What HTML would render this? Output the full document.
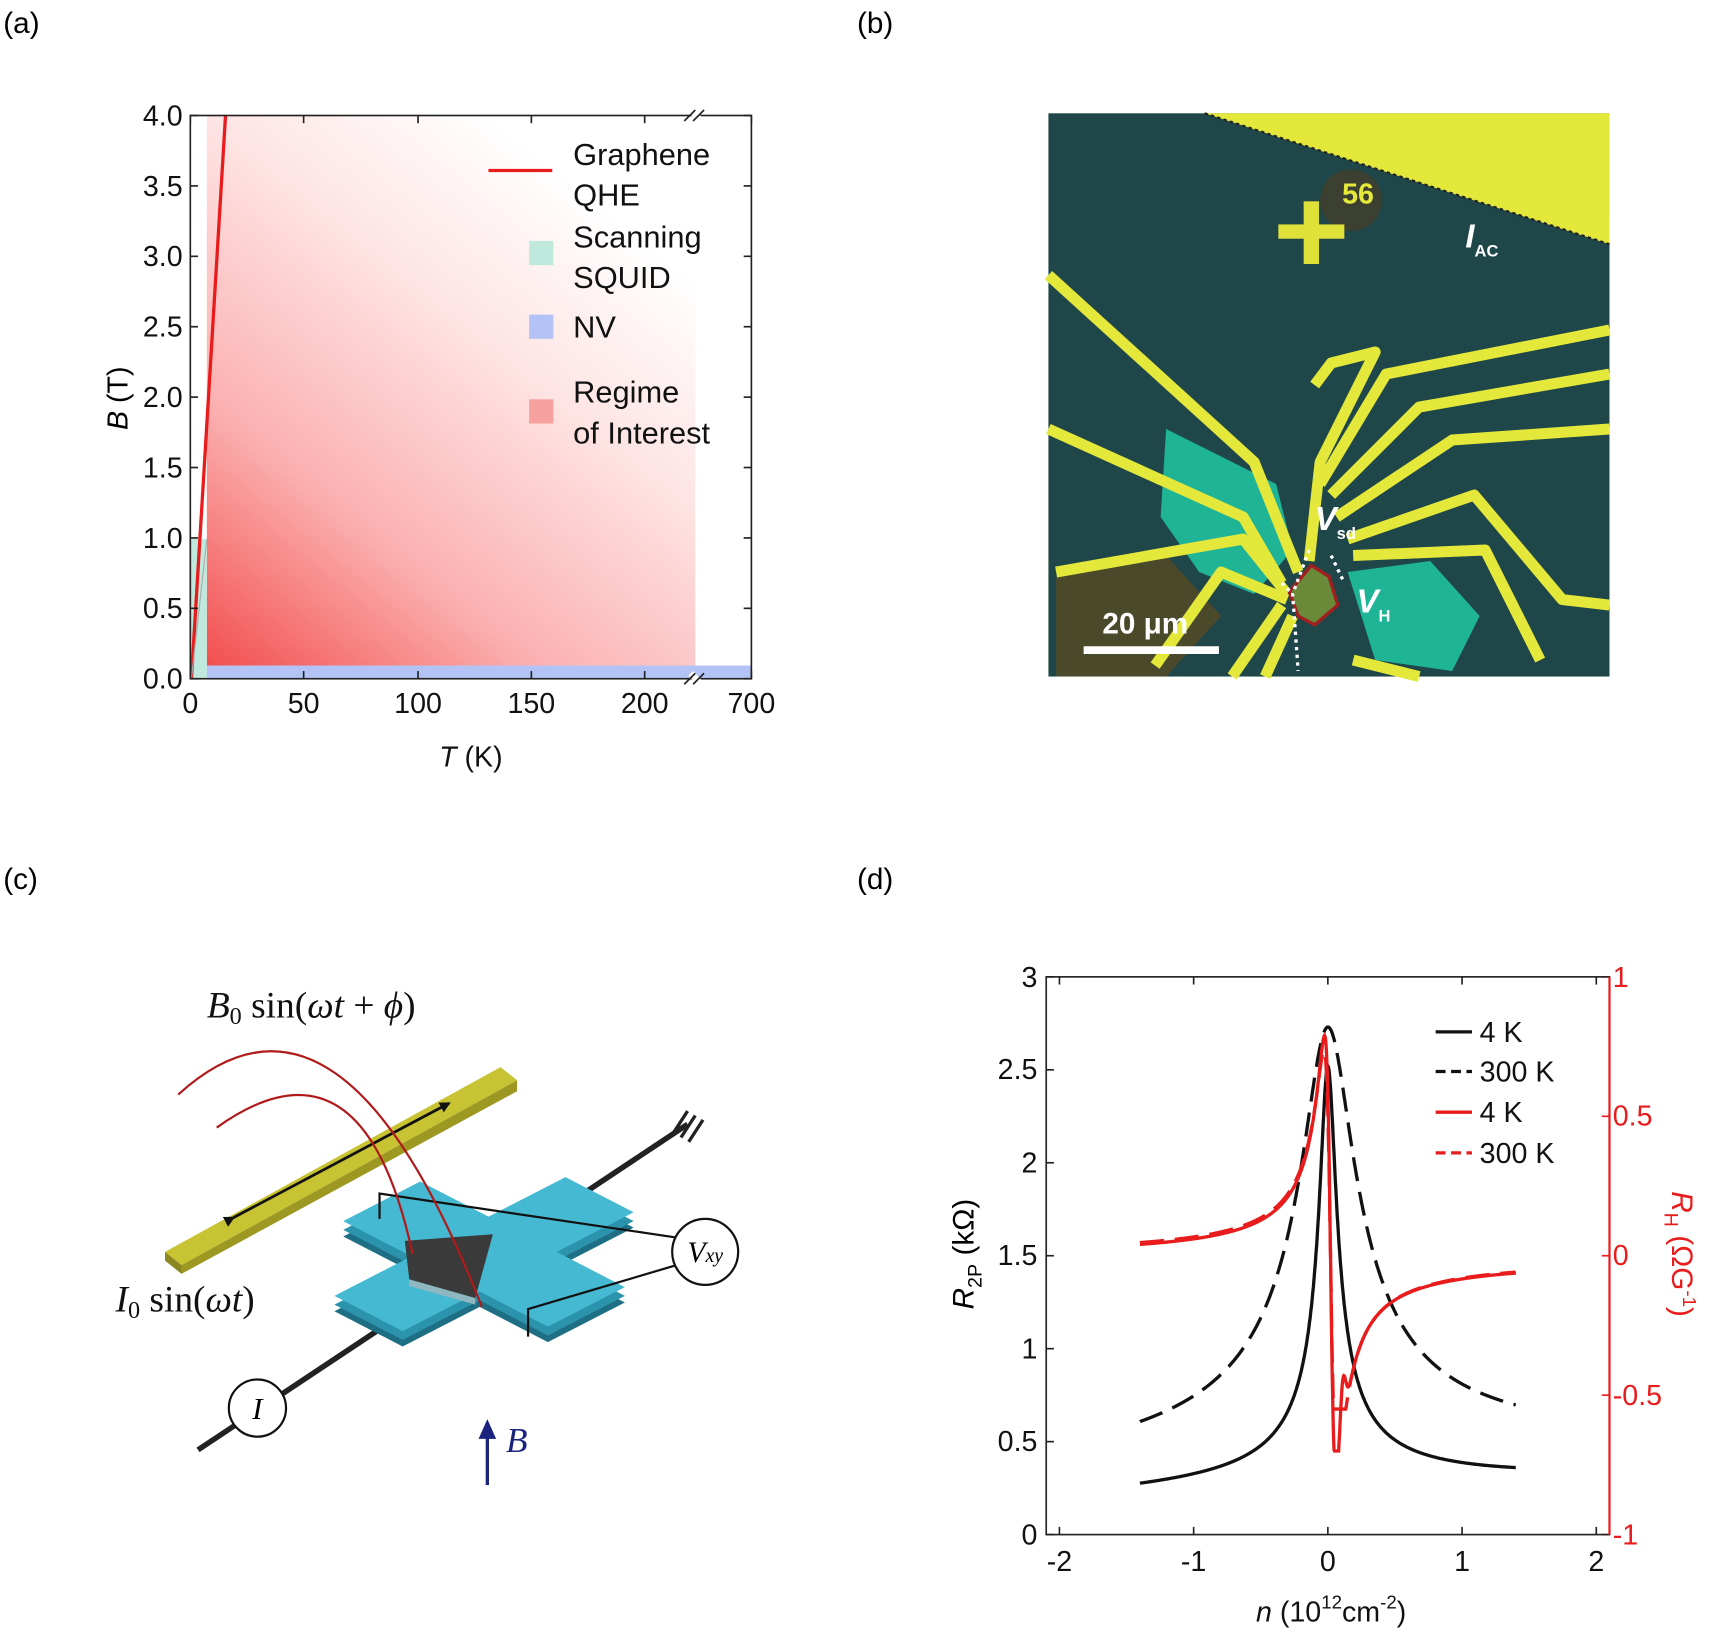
<!DOCTYPE html>
<html><head><meta charset="utf-8"><style>html,body{margin:0;padding:0;background:#fff}svg{display:block}.sans{font-family:"Liberation Sans",sans-serif}.serif{font-family:"Liberation Serif",serif}</style></head>
<body>
<svg id="s" class="sans" width="1725" height="1638" viewBox="0 0 1568 1489" preserveAspectRatio="none" xmlns="http://www.w3.org/2000/svg">
<defs>
<linearGradient id="pg" gradientUnits="userSpaceOnUse" x1="188" y1="617" x2="600" y2="105">
<stop offset="0" stop-color="#f24a4a"/><stop offset="0.3" stop-color="#fbb0b0"/><stop offset="0.6" stop-color="#fee3e3"/><stop offset="0.85" stop-color="#ffffff"/></linearGradient>
<marker id="ah" markerWidth="10" markerHeight="10" refX="8" refY="5" orient="auto" markerUnits="userSpaceOnUse"><path d="M0,0 L10,5 L0,10 Z" fill="#111"/></marker>
</defs>
<g font-size="27">
<text x="3" y="30">(a)</text><text x="779" y="30">(b)</text><text x="3" y="808">(c)</text><text x="779" y="808">(d)</text>
</g>
<!-- panel a -->
<rect x="188" y="105" width="444" height="500" fill="url(#pg)"/>
<rect x="173" y="490" width="15" height="127" fill="#bfe9dc"/>
<rect x="188" y="605" width="495" height="12" fill="#b3c3f5"/>
<line x1="174" y1="617" x2="205" y2="105" stroke="#e81c1c" stroke-width="3"/>
<line x1="174" y1="617" x2="188" y2="490" stroke="#aaa" stroke-width="1"/>
<rect x="173" y="105" width="510" height="512" fill="none" stroke="#222" stroke-width="1.5"/>
<g stroke="#fff" stroke-width="6"><line x1="628" y1="100" x2="637" y2="110"/><line x1="628" y1="612" x2="637" y2="622"/></g>
<g stroke="#222" stroke-width="1.5"><line x1="622" y1="110" x2="632" y2="100"/><line x1="630" y1="110" x2="640" y2="100"/><line x1="622" y1="622" x2="632" y2="612"/><line x1="630" y1="622" x2="640" y2="612"/></g>
<g id="aticks" stroke="#222" stroke-width="1.5"></g>
<g font-size="26" text-anchor="end" fill="#111">
<text x="166" y="114">4.0</text><text x="166" y="178">3.5</text><text x="166" y="242">3.0</text><text x="166" y="306">2.5</text><text x="166" y="370">2.0</text><text x="166" y="434">1.5</text><text x="166" y="498">1.0</text><text x="166" y="562">0.5</text><text x="166" y="626">0.0</text></g>
<g font-size="26" text-anchor="middle" fill="#111">
<text x="173" y="648">0</text><text x="276" y="648">50</text><text x="380" y="648">100</text><text x="483" y="648">150</text><text x="586" y="648">200</text><text x="683" y="648">700</text>
<text x="428" y="697"><tspan font-style="italic">T</tspan> (K)</text></g>
<text transform="translate(116,362) rotate(-90)" font-size="26" text-anchor="middle"><tspan font-style="italic">B</tspan> (T)</text>
<line x1="444" y1="155" x2="502" y2="155" stroke="#e81c1c" stroke-width="3"/>
<rect x="481" y="219" width="22" height="22" fill="#bfe9dc"/>
<rect x="481" y="286" width="22" height="22" fill="#b3c3f5"/>
<rect x="481" y="363" width="22" height="22" fill="#f7a0a0"/>
<g font-size="28" fill="#111"><text x="521" y="150">Graphene</text><text x="521" y="187">QHE</text><text x="521" y="225">Scanning</text><text x="521" y="262">SQUID</text><text x="521" y="307">NV</text><text x="521" y="366">Regime</text><text x="521" y="403">of Interest</text></g>
<!-- panel b -->
<rect x="953" y="103" width="510" height="512" fill="#1f4648"/>
<polygon points="1095,103 1463,103 1463,222" fill="#e3e83a"/>
<line x1="1095" y1="103" x2="1463" y2="222" stroke="#222" stroke-width="2" stroke-dasharray="3,3"/>
<circle cx="1228" cy="182" r="28" fill="#3b4030"/>
<rect x="1162" y="204" width="60" height="13" fill="#dfe038"/><rect x="1185" y="183" width="14" height="57" fill="#dfe038"/>
<text x="1220" y="185" font-size="26" font-weight="bold" fill="#e6e83a">56</text>
<polygon points="1060,390 1160,440 1175,500 1140,540 1090,520 1055,470" fill="#1fc8a3" opacity="0.85"/>
<polygon points="1225,520 1300,510 1345,560 1320,610 1250,600" fill="#1fc8a3" opacity="0.85"/>
<polygon points="960,525 1060,505 1110,560 1060,615 960,615" fill="#4a4a2a"/>
<g stroke="#e3e83a" stroke-width="10" fill="none" stroke-linejoin="round">
<path d="M953,250 L1140,420 L1180,520"/><path d="M953,390 L1130,470 L1165,530"/><path d="M960,520 L1130,490 L1170,540"/>
<path d="M1050,605 L1110,520 L1170,545"/><path d="M1120,615 L1165,550"/><path d="M1150,615 L1175,560"/>
<path d="M1195,350 L1210,330 L1250,320 L1200,420 L1190,510"/><path d="M1200,440 L1260,340 L1463,300"/>
<path d="M1210,450 L1290,370 L1463,340"/><path d="M1215,470 L1320,400 L1463,390"/>
<path d="M1225,490 L1340,450 L1420,545 L1463,550"/><path d="M1230,505 L1350,500 L1400,600"/>
<path d="M1230,600 L1290,615"/></g>
<polygon points="1172,538 1192,514 1208,524 1216,550 1195,568 1180,560" fill="#6a8a3a" stroke="#a02020" stroke-width="3"/>
<g stroke="#fff" stroke-width="3" stroke-dasharray="3,4" fill="none"><path d="M1190,500 L1175,540 L1180,610"/><path d="M1210,505 L1222,530"/><path d="M1165,530 L1175,540"/></g>
<line x1="985" y1="591" x2="1108" y2="591" stroke="#fff" stroke-width="7"/>
<text x="1002" y="576" font-size="27" font-weight="bold" fill="#fff">20 μm</text>
<text x="1195" y="482" font-size="30" font-weight="bold" font-style="italic" fill="#fff">V<tspan font-size="15" font-style="normal" dy="8">sd</tspan></text>
<text x="1233" y="557" font-size="30" font-weight="bold" font-style="italic" fill="#fff">V<tspan font-size="15" font-style="normal" dy="8">H</tspan></text>
<text x="1332" y="225" font-size="30" font-weight="bold" font-style="italic" fill="#fff">I<tspan font-size="15" font-style="normal" dy="8">AC</tspan></text>
<!-- panel c -->
<line x1="180" y1="1318" x2="625" y2="1022" stroke="#222" stroke-width="5"/>
<g stroke="#222" stroke-width="3"><line x1="612" y1="1030" x2="625" y2="1010"/><line x1="619" y1="1034" x2="632" y2="1014"/><line x1="626" y1="1038" x2="639" y2="1018"/></g>
<polygon points="150,1138 455,970 470,982 165,1150" fill="#c8c332"/>
<polygon points="165,1150 470,982 470,992 165,1158" fill="#9d9822"/>
<polygon points="150,1138 165,1150 165,1158 150,1146" fill="#8a8620"/>
<line x1="212" y1="1107" x2="408" y2="1003" stroke="#111" stroke-width="2.5" marker-end="url(#ah)" marker-start="url(#ah)"/>
<g id="cross"></g>
<polygon points="368,1128 448,1122 432,1180 372,1163" fill="#3a3a3a"/>
<polygon points="372,1163 432,1180 432,1186 372,1169" fill="#8fb7c0"/>
<g stroke="#111" stroke-width="2" fill="none">
<polyline points="345,1108 345,1085 615,1125"/><polyline points="480,1215 480,1190 615,1150"/></g>
<circle cx="641" cy="1138" r="30" fill="#fff" stroke="#111" stroke-width="2"/>
<text class="serif" x="641" y="1147" font-size="27" font-style="italic" text-anchor="middle">V<tspan font-size="18">xy</tspan></text>
<circle cx="234" cy="1280" r="26" fill="#fff" stroke="#111" stroke-width="2"/>
<text class="serif" x="234" y="1290" font-size="28" font-style="italic" text-anchor="middle">I</text>
<g fill="none" stroke="#b01a1a" stroke-width="2">
<path d="M162,995 Q310,860 438,1188"/><path d="M197,1025 Q330,930 375,1140"/></g>
<line x1="443" y1="1350" x2="443" y2="1305" stroke="#1a237e" stroke-width="3"/>
<polygon points="443,1290 451,1308 435,1308" fill="#1a237e"/>
<text class="serif" x="460" y="1320" font-size="32" font-style="italic" fill="#1a237e">B</text>
<text class="serif" x="188" y="925" font-size="34" fill="#111"><tspan font-style="italic">B</tspan><tspan font-size="22" dy="6">0</tspan><tspan dy="-6"> sin(</tspan><tspan font-style="italic">ωt</tspan> + <tspan font-style="italic">ϕ</tspan>)</text>
<text class="serif" x="105" y="1192" font-size="34" fill="#111"><tspan font-style="italic">I</tspan><tspan font-size="22" dy="6">0</tspan><tspan dy="-6"> sin(</tspan><tspan font-style="italic">ωt</tspan>)</text>
<!-- panel d -->
<g id="dplot"></g>
<rect x="951" y="888" width="512" height="507" fill="none" stroke="#222" stroke-width="1.5"/>
<line x1="1463" y1="888" x2="1463" y2="1395" stroke="#e81c1c" stroke-width="2"/>
<g font-size="26" text-anchor="end" fill="#111">
<text x="943" y="897">3</text><text x="943" y="981">2.5</text><text x="943" y="1066">2</text><text x="943" y="1150">1.5</text><text x="943" y="1235">1</text><text x="943" y="1319">0.5</text><text x="943" y="1404">0</text></g>
<g font-size="26" fill="#e81c1c">
<text x="1466" y="897">1</text><text x="1466" y="1023">0.5</text><text x="1466" y="1150">0</text><text x="1466" y="1277">-0.5</text><text x="1466" y="1404">-1</text></g>
<g font-size="26" text-anchor="middle" fill="#111">
<text x="963" y="1428">-2</text><text x="1085" y="1428">-1</text><text x="1207" y="1428">0</text><text x="1329" y="1428">1</text><text x="1451" y="1428">2</text>
<text x="1210" y="1474"><tspan font-style="italic">n</tspan> (10<tspan font-size="17" dy="-12">12</tspan><tspan dy="12">cm</tspan><tspan font-size="17" dy="-12">-2</tspan><tspan dy="12">)</tspan></text></g>
<text transform="translate(885,1140) rotate(-90)" font-size="27" text-anchor="middle"><tspan font-style="italic">R</tspan><tspan font-size="18" dy="7">2P</tspan><tspan dy="-7"> (kΩ)</tspan></text>
<text transform="translate(1520,1140) rotate(90)" font-size="27" text-anchor="middle" fill="#e81c1c"><tspan font-style="italic">R</tspan><tspan font-size="18" dy="7">H</tspan><tspan dy="-7"> (ΩG</tspan><tspan font-size="17" dy="-10">-1</tspan><tspan dy="10">)</tspan></text>
<g stroke-width="3"><line x1="1305" y1="938" x2="1338" y2="938" stroke="#111"/><line x1="1305" y1="974" x2="1338" y2="974" stroke="#111" stroke-dasharray="9,5"/><line x1="1305" y1="1011" x2="1338" y2="1011" stroke="#e81c1c"/><line x1="1305" y1="1048" x2="1338" y2="1048" stroke="#e81c1c" stroke-dasharray="9,5"/></g>
<g font-size="26" fill="#111"><text x="1345" y="947">4 K</text><text x="1345" y="983">300 K</text><text x="1345" y="1020">4 K</text><text x="1345" y="1057">300 K</text></g>
</svg>
<script>
var NS="http://www.w3.org/2000/svg";
function el(p,t,a){var e=document.createElementNS(NS,t);for(var k in a)e.setAttribute(k,a[k]);p.appendChild(e);return e;}
var at=document.getElementById("aticks");
for(var i=0;i<=8;i++){var y=617-i*64;el(at,"line",{x1:173,y1:y,x2:180,y2:y});el(at,"line",{x1:683,y1:y,x2:676,y2:y});}
[173,276,380,483,586,683].forEach(function(x){el(at,"line",{x1:x,y1:617,x2:x,y2:610});el(at,"line",{x1:x,y1:105,x2:x,y2:112});});
var cr=document.getElementById("cross");
var c=[440,1140],a=[70,-36],b=[62,32];
function P(u,v,dy){return (c[0]+u*a[0]+v*b[0])+","+(c[1]+u*a[1]+v*b[1]+(dy||0));}
var pts=[[1.5,-0.5],[1.5,0.5],[0.5,0.5],[0.5,1.5],[-0.5,1.5],[-0.5,0.5],[-1.5,0.5],[-1.5,-0.5],[-0.5,-0.5],[-0.5,-1.5],[0.5,-1.5],[0.5,-0.5]];
el(cr,"polygon",{points:pts.map(function(p){return P(p[0],p[1],14)}).join(" "),fill:"#1e6f84"});
el(cr,"polygon",{points:pts.map(function(p){return P(p[0],p[1],8)}).join(" "),fill:"#2c93ad"});
el(cr,"polygon",{points:pts.map(function(p){return P(p[0],p[1],0)}).join(" "),fill:"#45b8d2"});
var d=document.getElementById("dplot");
var ax=el(d,"g",{stroke:"#222","stroke-width":1.5});
[963,1085,1207,1329,1451].forEach(function(x){el(ax,"line",{x1:x,y1:1395,x2:x,y2:1388});el(ax,"line",{x1:x,y1:888,x2:x,y2:895});});
for(var i=0;i<=6;i++){var y=1395-i*84.5;el(ax,"line",{x1:951,y1:y,x2:958,y2:y});}
for(var i=0;i<=4;i++){var y=1395-i*126.75;el(ax,"line",{x1:1463,y1:y,x2:1456,y2:y,stroke:"#e81c1c"});}
function X(n){return 1207+n*122;}
function YL(r){return 1395-r*169;}
function YR(h){return 1141.5-h*253.5;}
function path(f,col,dash){var s="";for(var i=0;i<=800;i++){var n=-1.4+2.8*i/800;var v=f(n);s+=(i?"L":"M")+X(n).toFixed(1)+","+v.toFixed(1);}
var o={d:s,fill:"none",stroke:col,"stroke-width":3};if(dash)o["stroke-dasharray"]=dash;el(d,"path",o);}
path(function(n){var w=0.06;return YL(0.22+0.03*n+2.3*w/Math.sqrt(n*n+w*w));},"#111");
path(function(n){var w=0.19;return YL(0.33+0.032*n+2.4*w/Math.sqrt(n*n+w*w));},"#111","22,10");
path(function(n){var m=n-0.02,w=0.045;var h=-0.01-0.072*m/(m*m+w*w);if(n>0.05)h+=0.2*Math.exp(-Math.pow((n-0.11)/0.03,2));return YR(Math.max(-0.7,h));},"#e81c1c");
path(function(n){var m=n-0.02,w=0.05;var h=-0.005-0.074*m/(m*m+w*w);return YR(Math.max(-0.55,h));},"#e81c1c","22,10");
</script>
</body></html>
